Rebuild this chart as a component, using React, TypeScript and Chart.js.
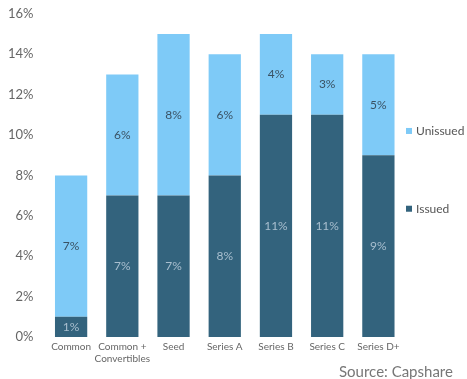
import React, { useEffect, useRef } from "react";
import { Chart, registerables } from "chart.js";

Chart.register(...registerables);

const categories: (string | string[])[] = [
  "Common",
  ["Common +", "Convertibles"],
  "Seed",
  "Series A",
  "Series B",
  "Series C",
  "Series D+",
];
const issued = [1, 7, 7, 8, 11, 11, 9];
const unissued = [7, 6, 8, 6, 4, 3, 5];
const yTicks = [0, 2, 4, 6, 8, 10, 12, 14, 16];

const DARK = "#33637d";
const LIGHT = "#7ecaf7";
const FONT = "Lato, 'Open Sans', sans-serif";

const labelPlugin = {
  id: "barLabels",
  afterDatasetsDraw(chart: any) {
    const ctx = chart.ctx;
    ctx.save();
    ctx.font = `12px ${FONT}`;
    ctx.textAlign = "center";
    ctx.textBaseline = "middle";
    chart.data.datasets.forEach((ds: any, di: number) => {
      const meta = chart.getDatasetMeta(di);
      meta.data.forEach((bar: any, i: number) => {
        const { x, y, base } = bar.getProps(["x", "y", "base"], true);
        ctx.fillStyle = di === 0 ? "#a9bfcf" : "#3a5264";
        ctx.fillText(ds.data[i] + "%", x, (y + base) / 2);
      });
    });
    ctx.restore();
  },
};

const legendPlugin = {
  id: "sideLegend",
  afterDraw(chart: any) {
    const ctx = chart.ctx;
    const yScale = chart.scales.y;
    const items = [
      { ds: chart.data.datasets[1], v: 10.2 },
      { ds: chart.data.datasets[0], v: 6.35 },
    ];
    ctx.save();
    ctx.font = `12px ${FONT}`;
    ctx.textBaseline = "middle";
    ctx.textAlign = "left";
    items.forEach((it) => {
      const y = yScale.getPixelForValue(it.v);
      const x = 406;
      ctx.fillStyle = it.ds.backgroundColor;
      ctx.fillRect(x, y - 3, 6, 6);
      ctx.fillStyle = "#555";
      ctx.fillText(it.ds.label, x + 10, y);
    });
    ctx.restore();
  },
};

export default function App() {
  const ref = useRef<HTMLCanvasElement | null>(null);
  useEffect(() => {
    if (!ref.current) return;
    const chart = new Chart(ref.current, {
      type: "bar",
      data: {
        labels: categories,
        datasets: [
          { label: "Issued", data: issued, backgroundColor: DARK, categoryPercentage: 0.63, barPercentage: 1 },
          { label: "Unissued", data: unissued, backgroundColor: LIGHT, categoryPercentage: 0.63, barPercentage: 1 },
        ],
      },
      options: {
        responsive: false,
        animation: false,
        layout: { padding: { left: 2, top: 0, right: 63, bottom: 10 } },
        plugins: { legend: { display: false }, tooltip: { enabled: false } },
        scales: {
          x: {
            stacked: true,
            grid: { display: false, drawTicks: false },
            border: { display: false },
            ticks: { color: "#666", font: { family: FONT, size: 10 }, padding: 4, maxRotation: 0, autoSkip: false },
          },
          y: {
            stacked: true,
            min: 0,
            max: 16,
            afterBuildTicks: (axis: any) => {
              axis.ticks = yTicks.map((v) => ({ value: v }));
            },
            grid: { display: false, drawTicks: true, tickLength: 6 },
            border: { display: false },
            ticks: {
              color: "#666",
              font: { family: FONT, size: 13 },
              padding: 6,
              callback: (v: any) => v + "%",
            },
          },
        },
      },
      plugins: [labelPlugin, legendPlugin],
    });
    return () => chart.destroy();
  }, []);
  return (
    <div style={{ position: "fixed", left: 0, top: 0, width: 467, height: 379, overflow: "hidden", background: "#fff" }}>
      <canvas ref={ref} width={467} height={379} />
      <div
        style={{
          position: "absolute",
          left: 339,
          top: 362,
          whiteSpace: "nowrap",
          fontFamily: FONT,
          fontSize: 15,
          color: "#777",
        }}
      >
        Source: Capshare
      </div>
    </div>
  );
}
